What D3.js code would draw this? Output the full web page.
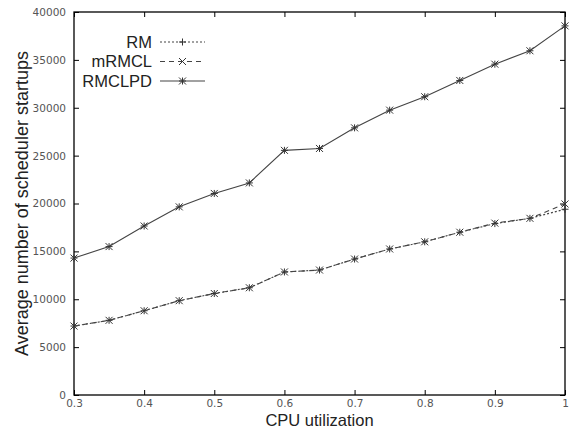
<!DOCTYPE html>
<html>
<head>
<meta charset="utf-8">
<style>
  body { margin: 0; background: #fff; }
  text { font-family: 'Liberation Sans', Arial, sans-serif; }
</style>
</head>
<body>
<div id="chart"></div>
<script src="https://cdn.jsdelivr.net/npm/d3@7"></script>
<script>
var utilization = [0.3, 0.35, 0.4, 0.45, 0.5, 0.55, 0.6, 0.65, 0.7, 0.75, 0.8, 0.85, 0.9, 0.95, 1.0];
var rm      = [7200, 7800, 8800, 9850, 10600, 11200, 12850, 13050, 14200, 15250, 16000, 17000, 17900, 18450, 19400];
var mrmcl   = [7200, 7800, 8800, 9850, 10600, 11200, 12850, 13050, 14200, 15250, 16000, 17000, 17950, 18450, 19950];
var rmclpd  = [14300, 15500, 17650, 19650, 21050, 22150, 25550, 25750, 27900, 29750, 31150, 32850, 34550, 35950, 38550];
var xTicks = [0.3, 0.4, 0.5, 0.6, 0.7, 0.8, 0.9, 1];
var yTicks = [0, 5000, 10000, 15000, 20000, 25000, 30000, 35000, 40000];

var width = 572, height = 430;
var margin = {top: 12, right: 7, bottom: 35, left: 74};

var svg = d3.select('#chart').append('svg')
    .attr('width', width).attr('height', height);

var x = d3.scaleLinear().domain([0.3, 1]).range([margin.left, width - margin.right]);
var y = d3.scaleLinear().domain([0, 40000]).range([height - margin.bottom, margin.top]);

var tickLen = 5;
var fmtX = function(d){ return d === 1 ? '1' : d3.format('.1f')(d); };

// frame ticks, inward on all four sides
function styleAxis(g){
    g.select('.domain').remove();
    g.selectAll('.tick line').attr('stroke', '#000');
    g.selectAll('.tick text').attr('fill', '#555')
        .style('font-family', "'DejaVu Sans', sans-serif").style('font-size', '10.5px');
}

svg.append('g')
    .attr('transform', 'translate(0,' + y(0) + ')')
    .call(d3.axisBottom(x).tickValues(xTicks).tickFormat(fmtX).tickSizeInner(-tickLen).tickPadding(5))
    .call(styleAxis);

svg.append('g')
    .attr('transform', 'translate(0,' + y(40000) + ')')
    .call(d3.axisTop(x).tickValues(xTicks).tickFormat('').tickSizeInner(-tickLen))
    .call(styleAxis);

svg.append('g')
    .attr('transform', 'translate(' + x(0.3) + ',0)')
    .call(d3.axisLeft(y).tickValues(yTicks).tickFormat(d3.format('d')).tickSizeInner(-tickLen).tickPadding(8))
    .call(styleAxis);

svg.append('g')
    .attr('transform', 'translate(' + x(1) + ',0)')
    .call(d3.axisRight(y).tickValues(yTicks).tickFormat('').tickSizeInner(-tickLen))
    .call(styleAxis);

svg.append('rect')
    .attr('x', x(0.3)).attr('y', y(40000))
    .attr('width', x(1) - x(0.3)).attr('height', y(0) - y(40000))
    .attr('fill', 'none').attr('stroke', '#000').attr('stroke-width', 1.3);

// axis titles
svg.append('text')
    .attr('x', (x(0.3) + x(1)) / 2).attr('y', 426)
    .attr('text-anchor', 'middle')
    .style('font-size', '16.5px').attr('fill', '#222')
    .text('CPU utilization');

svg.append('text')
    .attr('transform', 'translate(27.5,' + (y(0) + y(40000)) / 2 + ') rotate(-90)')
    .attr('text-anchor', 'middle')
    .style('font-size', '18px').attr('fill', '#222')
    .text('Average number of scheduler startups');

// markers
function marker(g, type, s){
    var p = [];
    if(type === 'plus' || type === 'star') p.push('M' + (-s) + ',0H' + s + 'M0,' + (-s) + 'V' + s);
    if(type === 'cross' || type === 'star') p.push('M' + (-s) + ',' + (-s) + 'L' + s + ',' + s + 'M' + (-s) + ',' + s + 'L' + s + ',' + (-s));
    g.append('path').attr('d', p.join('')).attr('stroke', '#333').attr('stroke-width', 1).attr('fill', 'none');
}

var series = [
    {name: 'RM', values: rm, dash: '2,2', mark: 'plus'},
    {name: 'mRMCL', values: mrmcl, dash: '5,4', mark: 'cross'},
    {name: 'RMCLPD', values: rmclpd, dash: null, mark: 'star'}
];

var line = d3.line()
    .x(function(d, i){ return x(utilization[i]); })
    .y(function(d){ return y(d); });

series.forEach(function(s){
    svg.append('path')
        .datum(s.values)
        .attr('d', line)
        .attr('fill', 'none')
        .attr('stroke', '#444')
        .attr('stroke-width', 1.1)
        .attr('stroke-dasharray', s.dash);

    svg.selectAll(null).data(s.values).enter()
        .append('g')
        .attr('transform', function(d, i){ return 'translate(' + x(utilization[i]) + ',' + y(d) + ')'; })
        .each(function(){ marker(d3.select(this), s.mark, 3.5); });
});

// legend
var legend = svg.append('g');
series.forEach(function(s, i){
    var ly = 42 + i * 19.5;
    legend.append('text')
        .attr('x', 152).attr('y', ly).attr('dy', '0.35em')
        .attr('text-anchor', 'end')
        .style('font-size', '16.5px').attr('fill', '#222')
        .text(s.name);
    legend.append('line')
        .attr('x1', 160).attr('x2', 205).attr('y1', ly).attr('y2', ly)
        .attr('stroke', '#444').attr('stroke-width', 1.1)
        .attr('stroke-dasharray', s.dash);
    var mg = legend.append('g').attr('transform', 'translate(182.5,' + ly + ')');
    marker(mg, s.mark, 3.5);
});
</script>
</body>
</html>
